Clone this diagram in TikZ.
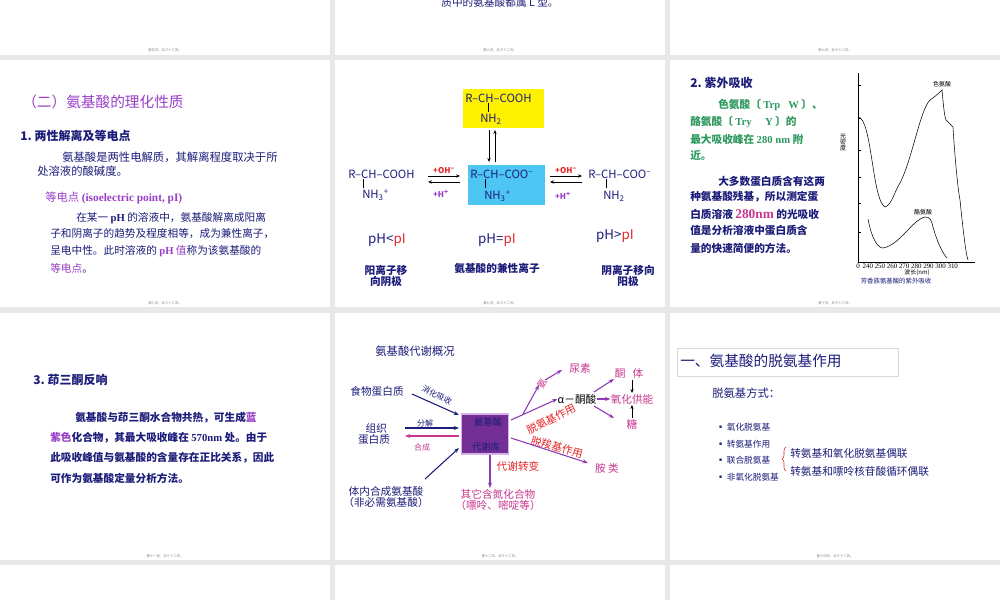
\documentclass[tikz,border=0pt]{standalone}
\usepackage{fontspec}
\setmainfont{Noto Sans CJK SC}
\newfontfamily\serifx{Liberation Serif}
\usetikzlibrary{arrows.meta,decorations.pathreplacing}
\definecolor{navy}{HTML}{1C1C7A}
\definecolor{violet}{HTML}{9A3FC8}
\definecolor{grn}{HTML}{2E9A5E}
\definecolor{mag}{HTML}{C8368F}
\definecolor{redx}{HTML}{E3262A}
\definecolor{gap}{HTML}{E8E8E8}
\newcommand{\fz}[1]{\fontsize{#1}{#1}\selectfont}
\tikzset{
 t/.style={anchor=west,inner sep=0pt},
 c/.style={inner sep=0pt},
 pg/.style={inner sep=0pt,font=\fz{2.5},text=gray},
 arr/.style={-{Stealth[length=4pt,width=3pt]},line width=0.8pt},
 sarr/.style={-{Stealth[length=3pt,width=2.5pt]},line width=0.6pt}
}
\begin{document}
\begin{tikzpicture}[x=0.75pt,y=-0.75pt]
\fill[gap] (0,0) rectangle (1000,600);
\useasboundingbox (0,0) rectangle (1000,600);
% panels
\foreach \x in {0,335,670}{
 \fill[white] (\x,0) rectangle ++(330,55);
 \fill[white] (\x,60) rectangle ++(330,247);
 \fill[white] (\x,313) rectangle ++(330,247);
 \fill[white] (\x,565) rectangle ++(330,35);
}
\node[pg] (p1) at (165,50) {第五页，共三十二页。};
\node[pg] (p2) at (500,50) {第六页，共三十二页。};
\node[pg] (p3) at (835,50) {第七页，共三十二页。};
\node[pg] (p4) at (165,303) {第八页，共三十二页。};
\node[pg] (p5) at (500,303) {第九页，共三十二页。};
\node[pg] (p6) at (835,303) {第十页，共三十二页。};
\node[pg] (p7) at (165,556) {第十一页，共三十二页。};
\node[pg] (p8) at (500,556) {第十二页，共三十二页。};
\node[pg] (p9) at (835,556) {第十四页，共三十二页。};
\node[c,font=\fz{8},text=navy] (top) at (500,2) {质中的氨基酸都属 L 型。};

% ---- panel row2 col1
\node[t,font=\fz{11},text=violet] (h1) at (22,102) {（二）氨基酸的理化性质};
\node[t,font=\fz{9}\bfseries,text=navy] (h2) at (20,136) {1.\ 两性解离及等电点};
\node[t,font=\fz{8.5},text=navy] (a1) at (62,157) {氨基酸是两性电解质，其解离程度取决于所};
\node[t,font=\fz{8.5},text=navy] (a2) at (37,171) {处溶液的酸碱度。};
\node[t,font=\fz{8.5},text=violet] (a3) at (45,198) {等电点 {\serifx\bfseries (isoelectric point, pI)}};
\node[t,font=\fz{8},text=navy] (a4) at (76,218) {在某一 {\serifx\bfseries pH} 的溶液中，氨基酸解离成阳离};
\node[t,font=\fz{8},text=navy] (a5) at (50,234) {子和阴离子的趋势及程度相等，成为兼性离子，};
\node[t,font=\fz{8},text=navy] (a6) at (50,251) {呈电中性。此时溶液的 \textcolor{violet}{{\serifx\bfseries pH} 值}称为该氨基酸的};
\node[t,font=\fz{8},text=violet] (a7) at (50,268) {等电点\textcolor{navy}{。}};

% ---- panel row2 col2
\fill[yellow] (463,89) rectangle (544,128);
\fill[cyan!70] (468,165) rectangle (545,205);
\begin{scope}[font=\fz{8.5},text=navy]
\node[t] (y1) at (465,98) {R--CH--COOH};
\node[t] (y2) at (480,119) {NH\textsubscript{2}};
\node[t] (c1) at (470,174) {R--CH--COO\textsuperscript{--}};
\node[t] (c2) at (484,196) {NH\textsubscript{3}\textsuperscript{+}};
\node[t] (l1) at (348,174) {R--CH--COOH};
\node[t] (l2) at (362,195) {NH\textsubscript{3}\textsuperscript{+}};
\node[t] (r1) at (588,174) {R--CH--COO\textsuperscript{--}};
\node[t] (r2) at (603,196) {NH\textsubscript{2}};
\end{scope}
\draw[thin] (488,103)--(488,112); \draw[thin] (485,179)--(485,188);
\draw[thin] (363,179)--(363,188); \draw[thin] (606,179)--(606,188);
\coordinate (va) at (489,130); \coordinate (vb) at (489,162);
\coordinate (vc) at (495,162); \coordinate (vd) at (495,130);
\draw[sarr] (va)--(vb); \draw[sarr] (vc)--(vd);
\coordinate (la) at (428,176); \coordinate (lb) at (460,176);
\coordinate (lc) at (460,182); \coordinate (ld) at (428,182);
\draw[sarr] (la)--(lb); \draw[sarr] (lc)--(ld);
\coordinate (ra) at (550,176); \coordinate (rb) at (582,176);
\coordinate (rc) at (582,182); \coordinate (rd) at (550,182);
\draw[sarr] (ra)--(rb); \draw[sarr] (rc)--(rd);
\node[c,font=\fz{6}\bfseries,text=redx] (o1) at (444,171) {+OH\textsuperscript{--}};
\node[c,font=\fz{6}\bfseries,text=redx] (o2) at (566,171) {+OH\textsuperscript{--}};
\node[c,font=\fz{6}\bfseries,text=violet] (h1a) at (441,194) {+H\textsuperscript{+}};
\node[c,font=\fz{6}\bfseries,text=violet] (h2a) at (563,196) {+H\textsuperscript{+}};
\node[c,font=\fz{10},text=navy] (ph1) at (387,240) {pH<\textcolor{redx}{pI}};
\node[c,font=\fz{10},text=navy] (ph2) at (497,240) {pH=\textcolor{redx}{pI}};
\node[c,font=\fz{10},text=navy] (ph3) at (615,236) {pH>\textcolor{redx}{pI}};
\node[c,font=\fz{8}\bfseries,text=navy,align=center] (d1) at (386,276) {阳离子移\\向阴极};
\node[c,font=\fz{8}\bfseries,text=navy] (d2) at (497,268) {氨基酸的兼性离子};
\node[c,font=\fz{8}\bfseries,text=navy,align=center] (d3) at (628,276) {阴离子移向\\阳极};

% ---- panel row2 col3
\node[t,font=\fz{9}\bfseries,text=navy] (g0) at (690,83) {2.\ 紫外吸收};
\begin{scope}[font=\fz{8}\bfseries,text=grn]
\node[t] (g1) at (718,105) {色氨酸〔 {\serifx Trp\ \ \ W} 〕、};
\node[t] (g2) at (690,122) {酪氨酸〔 {\serifx Try\ \ \ \ \ Y} 〕的};
\node[t] (g3) at (690,139) {最大吸收峰在 {\serifx 280 nm} 附};
\node[t] (g4) at (690,155) {近。};
\end{scope}
\begin{scope}[font=\fz{8}\bfseries,text=navy]
\node[t] (b1) at (718,181) {大多数蛋白质含有这两};
\node[t] (b2) at (690,197) {种氨基酸残基，所以测定蛋};
\node[t] (b3) at (690,214) {白质溶液 \textcolor{mag}{\fz{10}{\serifx 280nm}} 的光吸收};
\node[t] (b4) at (690,230) {值是分析溶液中蛋白质含};
\node[t] (b5) at (690,248) {量的快速简便的方法。};
\end{scope}
\draw[thin] (858,73)--(858,262)--(975,262);
\foreach \yy in {85,118,150,177,203,232}{\draw[thin] (858,\yy)--(861,\yy);}
\draw[thin] (858,117) .. controls (872,118) and (872,200) .. (885,207)
 .. controls (892,205) and (895,190) .. (900,183)
 .. controls (912,160) and (920,110) .. (930,100)
 .. controls (936,96) and (940,92) .. (942,90)
 .. controls (943,100) and (944,115) .. (946,120)
 .. controls (950,124) and (952,126) .. (953,127)
 .. controls (955,160) and (958,190) .. (960,200)
 .. controls (963,230) and (966,255) .. (968,260);
\draw[thin] (868,219) .. controls (872,240) and (878,248) .. (883,248)
 .. controls (900,245) and (912,220) .. (925,217)
 .. controls (930,216) and (932,222) .. (933,227)
 .. controls (938,245) and (944,255) .. (947,258);
\node[c,font=\fz{4.5}] (tl1) at (942,84) {色氨酸};
\node[c,font=\fz{4.5}] (tl2) at (923,212) {酪氨酸};
\node[c,font=\fz{4.5},align=center] (ya) at (843,142) {光\\密\\度};
\node[t,font=\fz{5.2}\serifx] (xt) at (856,266) {0\ \,240\ 250\ 260\ 270\ 280\ 290\ 300\ 310};
\node[c,font=\fz{4.5}] (xl) at (917,273) {波长(nm)};
\node[c,font=\fz{4.8},text=navy] (cap) at (896,281) {芳香族氨基酸的紫外吸收};

% ---- panel row3 col1
\node[t,font=\fz{9}\bfseries,text=navy] (s0) at (33,380) {3.\ 茚三酮反响};
\begin{scope}[font=\fz{8}\bfseries,text=navy]
\node[t] (s1) at (75,418) {氨基酸与茚三酮水合物共热，可生成\textcolor{violet}{蓝}};
\node[t] (s2) at (50,438) {\textcolor{violet}{紫色}化合物，其最大吸收峰在 {\serifx 570nm} 处。由于};
\node[t] (s3) at (50,458) {此吸收峰值与氨基酸的含量存在正比关系，因此};
\node[t] (s4) at (50,478) {可作为氨基酸定量分析方法。};
\end{scope}

% ---- panel row3 col2
\node[c,font=\fz{8.5},text=navy] (mt) at (415,351) {氨基酸代谢概况};
\node[draw=violet!40,line width=1pt,fill=violet!75!black,minimum width=35pt,minimum height=30pt,inner sep=0pt] (pool) at (485,434) {};
\node[c,font=\fz{7},text=navy] (pt1) at (488,422) {氨基酸};
\node[c,font=\fz{7},text=navy] (pt2) at (486,447) {代谢库};
\node[c,font=\fz{8},text=navy] (food) at (377,391) {食物蛋白质};
\node[c,font=\fz{8},text=navy,align=center] (tis) at (374,434) {\ \ 组织\\蛋白质};
\node[c,font=\fz{8},text=navy,align=center] (syn) at (386,497) {体内合成氨基酸\\（非必需氨基酸）};
\node[c,font=\fz{8},text=mag,align=center] (oth) at (498,500) {其它含氮化合物\\（嘌呤、嘧啶等）};
\coordinate (f1) at (412,394); \coordinate (f2) at (459,415);
\draw[arr,navy] (f1)--(f2);
\node[c,font=\fz{6},text=navy,rotate=-27] (xh) at (437,395) {消化吸收};
\coordinate (t1) at (405,428); \coordinate (t2) at (459,428);
\draw[arr,navy] (t1)--(t2);
\node[c,font=\fz{6},text=navy] (fj) at (425,423) {分解};
\coordinate (t3) at (459,436); \coordinate (t4) at (405,436);
\draw[arr,mag] (t3)--(t4);
\node[c,font=\fz{6},text=mag] (hc) at (422,447) {合成};
\coordinate (s5) at (425,479); \coordinate (s6) at (459,448);
\draw[arr,navy] (s5)--(s6);
\coordinate (dn) at (490,488);
\draw[arr,violet!90!black] (490,455)--(dn);
\node[c,font=\fz{8},text=redx] (zb) at (518,466) {代谢转变};
\node[c,font=\fz{8},text=black] (ak) at (577,399) {α－酮酸};
\coordinate (b0) at (511,420);
\draw[arr,violet!90!black] (b0)--(ak.west);
\coordinate (bn) at (523,414); \coordinate (am) at (539,385);
\draw[arr,violet!90!black] (bn)--(am);
\node[c,font=\fz{7},text=mag,rotate=60] (an) at (542,384) {氨};
\node[c,font=\fz{8},text=mag] (ns) at (580,368) {尿素};
\draw[arr,violet!90!black] (545,380)--(562,370);
\node[c,font=\fz{8},text=mag] (oxf) at (632,399) {氧化供能};
\node[c,font=\fz{8},text=mag] (kt) at (629,373) {酮\ \ \ 体};
\node[c,font=\fz{8},text=mag] (tang) at (632,424) {糖};
\draw[arr,violet!90!black] (ak.east)--(oxf.west);
\draw[arr,violet!90!black] (594,392)--(614,379);
\draw[arr,violet!90!black] (594,406)--(614,418);
\draw[sarr,black] (632,380)--(632,393);
\draw[sarr,black] (632,418)--(632,405);
\node[c,font=\fz{8},text=redx,rotate=27] (tak) at (551,419) {脱氨基作用};
\node[c,font=\fz{8},text=redx,rotate=-15] (tsk) at (557,447) {脱羧基作用};
\node[c,font=\fz{8},text=mag] (al) at (607,468) {胺\ 类};
\coordinate (e0) at (511,438);
\draw[arr,violet!90!black] (e0)--(588,463);

% ---- panel row3 col3
\node[draw=gray!30,minimum width=166pt,minimum height=21pt,anchor=north west,inner sep=0] (tb) at (677,348) {};
\node[t,font=\fz{11},text=navy] (tt) at (680,361) {一、氨基酸的脱氨基作用};
\node[t,font=\fz{8.5},text=navy] (fs) at (712,393) {脱氨基方式：};
\begin{scope}[font=\fz{6.5},text=navy]
\node[t] (q1) at (716,427) {▪ 氧化脱氨基};
\node[t] (q2) at (716,444) {▪ 转氨基作用};
\node[t] (q3) at (716,460) {▪ 联合脱氨基};
\node[t] (q4) at (716,477) {▪ 非氧化脱氨基};
\end{scope}
\draw[redx,thin,decorate,decoration={brace,amplitude=3pt,mirror}] (786,447)--(786,471);
\node[t,font=\fz{8},text=navy] (j1) at (790,453) {转氨基和氧化脱氨基偶联};
\node[t,font=\fz{8},text=navy] (j2) at (790,471) {转氨基和嘌呤核苷酸循环偶联};
\end{tikzpicture}
\end{document}
